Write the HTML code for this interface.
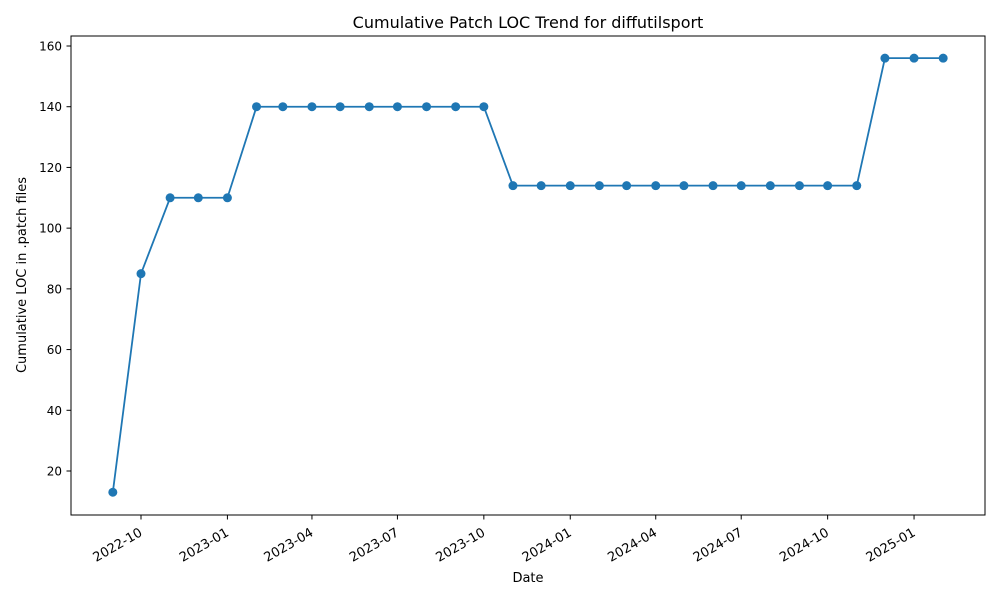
<!DOCTYPE html>
<html><head><meta charset="utf-8"><style>
body{margin:0;background:#fff;font-family:"Liberation Sans","DejaVu Sans",sans-serif;}
text{font-family:"DejaVu Sans","Liberation Sans",sans-serif;}
</style></head><body>
<svg id="chart" width="1000" height="600" xmlns="http://www.w3.org/2000/svg">
<rect width="1000" height="600" fill="#fff"/>
<text x="528" y="28" font-size="16" text-anchor="middle">Cumulative Patch LOC Trend for diffutilsport</text>
<text x="528" y="582" font-size="13" text-anchor="middle">Date</text>
<text transform="translate(26,275) rotate(-90)" font-size="13" text-anchor="middle">Cumulative LOC in .patch files</text>
<g id="axes"></g>
<rect x="71" y="36" width="914" height="479" fill="none" stroke="#000" stroke-width="1"/>
</svg>
<script>
const dates = ["2022-09-01","2022-10-01","2022-11-01","2022-12-01","2023-01-01","2023-02-01","2023-03-01","2023-04-01","2023-05-01","2023-06-01","2023-07-01","2023-08-01","2023-09-01","2023-10-01","2023-11-01","2023-12-01","2024-01-01","2024-02-01","2024-03-01","2024-04-01","2024-05-01","2024-06-01","2024-07-01","2024-08-01","2024-09-01","2024-10-01","2024-11-01","2024-12-01","2025-01-01","2025-02-01"];
const locValues = [13,85,110,110,110,140,140,140,140,140,140,140,140,140,114,114,114,114,114,114,114,114,114,114,114,114,114,156,156,156];
const xTickLabels = ["2022-10","2023-01","2023-04","2023-07","2023-10","2024-01","2024-04","2024-07","2024-10","2025-01"];
const yTickValues = [20,40,60,80,100,120,140,160];

const NS="http://www.w3.org/2000/svg";
const g=document.getElementById('axes');
const day0=Date.UTC(2022,9,1);
function xScale(s){const d=(Date.parse(s+(s.length===7?"-01":""))-day0)/86400000;return 141+d*0.9393;}
function yScale(v){return 471-(v-20)*(425/140);}
function mk(tag,attrs){const e=document.createElementNS(NS,tag);for(const k in attrs)e.setAttribute(k,attrs[k]);return e;}

yTickValues.forEach(v=>{
  const y=yScale(v);
  const t=mk('line',{x1:66.5,x2:71,y1:y,y2:y,stroke:'#000'});
  
  
  g.appendChild(t);
  const l=mk('text',{x:62,y:y+4.5,'font-size':12,'text-anchor':'end'});
  
  
  l.textContent=v;g.appendChild(l);
});
xTickLabels.forEach(s=>{
  const x=xScale(s);
  const t=mk('line',{x1:x,x2:x,y1:515,y2:519.5,stroke:'#000'});
  
  
  g.appendChild(t);
  const l=mk('text',{transform:`translate(${x-3},${526}) rotate(-30)`,'font-size':13,'text-anchor':'end',dy:'0.8em'});
  
  
  l.textContent=s;g.appendChild(l);
});
const pts=dates.map((d,i)=>[xScale(d),yScale(locValues[i])]);
const line=mk('polyline',{points:pts.map(p=>p.join(',')).join(' '),fill:'none',stroke:'#1f77b4','stroke-width':1.8});


g.appendChild(line);
pts.forEach(p=>{
  const c=mk('circle',{cx:p[0],cy:p[1],r:4.5,fill:'#1f77b4'});
  
  
  g.appendChild(c);
});
</script>
</body></html>
